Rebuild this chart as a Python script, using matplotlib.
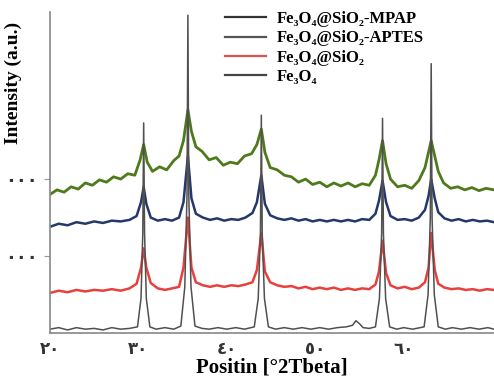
import matplotlib.pyplot as plt
from matplotlib.lines import Line2D

# ---- data (2theta in degrees, intensity in a.u., stacked) ----
x_black = [20, 21, 22, 23, 24, 25, 26, 27, 28, 29, 29.9, 30.3, 30.5, 30.6, 30.7, 30.9, 31.3,
           32, 33, 34, 34.8, 35.25, 35.5, 35.6, 35.7, 35.95, 36.4, 37.2, 38, 39, 40, 41, 42,
           43.1, 43.55, 43.8, 43.9, 44.0, 44.25, 44.7, 45.5, 46.5, 47.5, 48.5, 49.5, 50.5, 51.5,
           52.5, 53.5, 54.2, 54.6, 55, 55.4, 56.1, 56.8, 57.25, 57.5, 57.6, 57.7, 57.95, 58.4,
           59.2, 60, 61, 62.3, 62.75, 63.0, 63.1, 63.2, 63.45, 63.9, 64.7, 65.5, 66.5, 67.5,
           68.5, 69.5, 70.2]
y_black = [0.05, 0.07, 0.04, 0.07, 0.05, 0.06, 0.04, 0.07, 0.05, 0.06, 0.08, 0.45, 1.3, 2.73, 1.3, 0.45, 0.08,
           0.05, 0.07, 0.05, 0.09, 0.6, 1.8, 4.13, 1.8, 0.6, 0.09, 0.06, 0.05, 0.07, 0.05, 0.07, 0.05,
           0.08, 0.45, 1.3, 2.83, 1.3, 0.45, 0.08, 0.05, 0.07, 0.05, 0.07, 0.05, 0.07, 0.05,
           0.07, 0.08, 0.1, 0.16, 0.12, 0.07, 0.06, 0.08, 0.45, 1.3, 2.79, 1.3, 0.45, 0.08,
           0.05, 0.07, 0.05, 0.08, 0.5, 1.5, 3.5, 1.5, 0.5, 0.08, 0.05, 0.07, 0.05, 0.07,
           0.05, 0.07, 0.05]

x_red = [20, 21, 22, 23, 24, 25, 26, 27, 28, 29, 29.8, 30.3, 30.6, 30.9, 31.4, 32.2, 33, 33.8,
         34.6, 35.1, 35.6, 36.0, 36.5, 37.3, 38.1, 38.9, 39.7, 40.5, 41.3, 42.1, 42.9, 43.4, 43.9,
         44.3, 44.9, 45.7, 46.5, 47.3, 48.1, 48.9, 49.7, 50.5, 51.3, 52.1, 52.9, 53.7, 54.5, 55.3,
         56.1, 56.8, 57.2, 57.6, 58.0, 58.5, 59.3, 60.1, 60.9, 61.7, 62.4, 62.8, 63.1, 63.5, 63.9,
         64.6, 65.4, 66.2, 67, 67.8, 68.6, 69.4, 70.2]
y_red = [0.52, 0.55, 0.53, 0.56, 0.54, 0.56, 0.55, 0.57, 0.55, 0.58, 0.64, 0.85, 1.1, 0.85, 0.65, 0.58, 0.56, 0.58,
         0.6, 0.85, 1.5, 0.85, 0.66, 0.62, 0.6, 0.62, 0.6, 0.62, 0.61, 0.63, 0.66, 0.82, 1.3,
         0.8, 0.66, 0.62, 0.6, 0.61, 0.58, 0.6, 0.57, 0.59, 0.57, 0.59, 0.56, 0.58, 0.56, 0.58,
         0.57, 0.63, 0.8, 1.2, 0.78, 0.62, 0.58, 0.6, 0.57, 0.59, 0.66, 0.85, 1.3, 0.82, 0.64,
         0.59, 0.57, 0.58, 0.56, 0.57, 0.55, 0.57, 0.56]

x_blue = x_red
y_blue = [1.38, 1.42, 1.40, 1.44, 1.42, 1.45, 1.43, 1.46, 1.45, 1.47, 1.52, 1.7, 1.9, 1.68, 1.5, 1.46, 1.48, 1.46,
          1.5, 1.7, 2.3, 1.75, 1.55, 1.5, 1.47, 1.49, 1.46, 1.48, 1.47, 1.5, 1.56, 1.7, 2.05,
          1.68, 1.53, 1.49, 1.47, 1.49, 1.46, 1.48, 1.45, 1.47, 1.45, 1.47, 1.45, 1.47, 1.45, 1.48,
          1.47, 1.55, 1.72, 1.98, 1.7, 1.52, 1.47, 1.48, 1.46, 1.5, 1.6, 1.78, 2.0, 1.75, 1.57,
          1.49, 1.46, 1.48, 1.45, 1.47, 1.45, 1.46, 1.44]

x_green = [20, 20.8, 21.6, 22.4, 23.2, 24, 24.8, 25.6, 26.4, 27.2, 28, 28.8, 29.6, 30.2, 30.6, 31.0,
           31.6, 32.4, 33.2, 34.0, 34.6, 35.1, 35.6, 36.0, 36.5, 37.2, 38, 38.8, 39.6, 40.4, 41.2,
           42, 42.8, 43.4, 43.9, 44.3, 44.9, 45.7, 46.5, 47.3, 48.1, 48.9, 49.7, 50.5, 51.3, 52.1,
           52.9, 53.7, 54.5, 55.3, 56.1, 56.8, 57.2, 57.6, 58.0, 58.5, 59.3, 60.1, 60.9, 61.7, 62.4,
           62.8, 63.1, 63.5, 63.9, 64.5, 65.3, 66.1, 66.9, 67.7, 68.5, 69.3, 70.2]
y_green = [1.80, 1.86, 1.83, 1.90, 1.87, 1.95, 1.92, 1.99, 1.96, 2.03, 2.0, 2.07, 2.05, 2.25, 2.45, 2.22,
           2.10, 2.16, 2.12, 2.24, 2.30, 2.5, 2.9, 2.62, 2.42, 2.36, 2.25, 2.28, 2.18, 2.22, 2.2,
           2.3, 2.33, 2.45, 2.65, 2.35, 2.15, 2.12, 2.05, 2.03, 1.96, 2.0, 1.93, 1.96, 1.9, 1.95,
           1.91, 1.95, 1.9, 1.94, 1.92, 2.05, 2.25, 2.5, 2.2, 2.0, 1.9, 1.92, 1.88, 1.98, 2.15,
           2.35, 2.5, 2.3, 2.1, 1.95, 1.88, 1.9, 1.86, 1.89, 1.85, 1.88, 1.86]

labels = ["Fe₃O₄@SiO₂-MPAP", "Fe₃O₄@SiO₂-APTES", "Fe₃O₄@SiO₂", "Fe₃O₄"]
x_ticks = [20, 30, 40, 50, 60]
x_ticklabels = ["٢٠", "٣٠", "٤٠", "٥٠", "٦٠"]
y_ticks = [1, 2]
y_ticklabels = ["٠٠٠", "٠٠٠"]

fig = plt.figure(figsize=(4.94, 3.78), dpi=100)
ax = fig.add_axes([0.101, 0.119, 0.899, 0.849])

ax.plot(x_green, y_green, color='#4f7a1c', lw=2.0)
ax.plot(x_blue, y_blue, color='#24386a', lw=1.8)
ax.plot(x_red, y_red, color='#e8403c', lw=1.8)
ax.plot(x_black, y_black, color='#505050', lw=1.1)

ax.set_xlim(20, 70.2)
ax.set_ylim(0, 4.17)
ax.set_xticks(x_ticks)
ax.set_xticklabels(x_ticklabels, fontfamily='DejaVu Sans', fontsize=12, fontweight='bold',
                   color='#333333')
ax.set_yticks(y_ticks)
ax.set_yticklabels(y_ticklabels, fontfamily='DejaVu Sans', fontsize=13, fontweight='bold',
                   color='#333333')
ax.tick_params(axis='x', length=0, pad=5)
ax.tick_params(axis='y', length=4, color='#999999', pad=5)

for s in ['top', 'right']:
    ax.spines[s].set_visible(False)
for s in ['left', 'bottom']:
    ax.spines[s].set_color('#888888')
    ax.spines[s].set_linewidth(1.2)

ax.set_xlabel("Positin [°2Tbeta]", fontfamily='Liberation Serif', fontweight='bold',
              fontsize=15, labelpad=0)
ax.set_ylabel("Intensity (a.u.)", fontfamily='Liberation Serif', fontweight='bold',
              fontsize=14)
ax.yaxis.set_label_coords(-0.062, 0.78)

handles = [Line2D([], [], color=c, lw=1.6) for c in ['#333333', '#555555', '#e05050', '#444444']]
ax.legend(handles, labels, loc='upper left', bbox_to_anchor=(0.36, 1.05), frameon=False,
          prop={'family': 'Liberation Serif', 'weight': 'bold', 'size': 12},
          handlelength=2.5, labelspacing=0.2, handletextpad=0.6)

fig.savefig('out.png', dpi=100)
